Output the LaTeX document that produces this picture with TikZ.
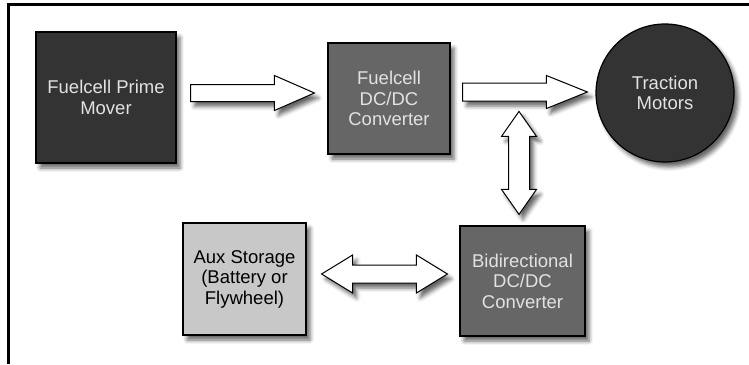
\documentclass[tikz,border=0pt]{standalone}
\usepackage{fontspec}
\setmainfont{Liberation Sans}
\usetikzlibrary{calc,positioning,shadows.blur}

\definecolor{boxdark}{HTML}{333333}
\definecolor{boxmid}{HTML}{666666}
\definecolor{boxlight}{HTML}{C8C8C8}
\definecolor{txtlight}{HTML}{E2E2E2}

\tikzset{
  shade box/.style={blur shadow={shadow xshift=4pt,shadow yshift=-5pt,shadow blur radius=4pt,shadow opacity=60}},
  box/.style={rectangle,draw=black,line width=1.2pt,inner sep=2pt,align=center,
    font=\fontsize{18.5}{20.5}\selectfont,shade box},
  darkbox/.style={box,fill=boxdark,text=txtlight},
  midbox/.style={box,fill=boxmid,text=txtlight},
  lightbox/.style={box,fill=boxlight,text=black},
  fat/.style={draw=black,line width=1pt,fill=white,line join=miter,shade box}
}

% block arrow #1 -> #2, half shaft #3, half head #4, head length #5
\newcommand{\fatone}[5]{%
  \draw[fat] ($(#1)!#3!90:(#2)$) -- ($(#2)!#5!(#1)!#3!-90:(#1)$) -- ($(#2)!#5!(#1)!#4!-90:(#1)$) -- (#2)
    -- ($(#2)!#5!(#1)!#4!90:(#1)$) -- ($(#2)!#5!(#1)!#3!90:(#1)$) -- ($(#1)!#3!-90:(#2)$) -- cycle;}
% same, heads at both ends
\newcommand{\fattwo}[5]{%
  \draw[fat] (#1) -- ($(#1)!#5!(#2)!#4!90:(#2)$) -- ($(#1)!#5!(#2)!#3!90:(#2)$)
    -- ($(#2)!#5!(#1)!#3!-90:(#1)$) -- ($(#2)!#5!(#1)!#4!-90:(#1)$) -- (#2)
    -- ($(#2)!#5!(#1)!#4!90:(#1)$) -- ($(#2)!#5!(#1)!#3!90:(#1)$)
    -- ($(#1)!#5!(#2)!#3!-90:(#2)$) -- ($(#1)!#5!(#2)!#4!-90:(#2)$) -- cycle;}

\begin{document}
\begin{tikzpicture}[x=1pt,y=-1pt]
\useasboundingbox (0,0) rectangle (749,364);
\draw[line width=3pt] (8.5,364) -- (8.5,4.5) -- (749,4.5);

\node[darkbox,minimum width=140,minimum height=131] (pm) at (106,97.5) {Fuelcell Prime\\Mover};
\node[midbox,minimum width=122,minimum height=111] (fc) at (389,98.5) {Fuelcell\\DC/DC\\Converter};
\node[darkbox,circle,minimum size=138] (tm) at (665,93) {Traction\\Motors};
\node[lightbox,minimum width=123,minimum height=112] (aux) at (244.5,279) {Aux Storage\\(Battery or\\Flywheel)};
\node[midbox,minimum width=125,minimum height=110] (bd) at (522.5,281) {Bidirectional\\DC/DC\\Converter};

\coordinate (a1s) at ($(pm.east)+(14,-4.5)$);
\coordinate (a1e) at ($(fc.west)+(-13,-5.5)$);
\coordinate (a2s) at ($(fc.east)+(12,-6.5)$);
\coordinate (a2e) at ($(tm.west)+(-8,-1)$);
\coordinate (vs) at ($(bd.north)+(-3.5,-114)$);
\coordinate (ve) at ($(bd.north)+(-3.5,-11)$);
\coordinate (hs) at ($(aux.east)+(15,-5)$);
\coordinate (he) at ($(bd.west)+(-12,-7)$);

\fatone{a1s}{a1e}{8.5pt}{17.5pt}{40pt}
\fatone{a2s}{a2e}{9pt}{16.5pt}{41pt}
\fattwo{vs}{ve}{10.5pt}{17.5pt}{25pt}
\fattwo{hs}{he}{9pt}{19pt}{31pt}

\end{tikzpicture}
\end{document}
